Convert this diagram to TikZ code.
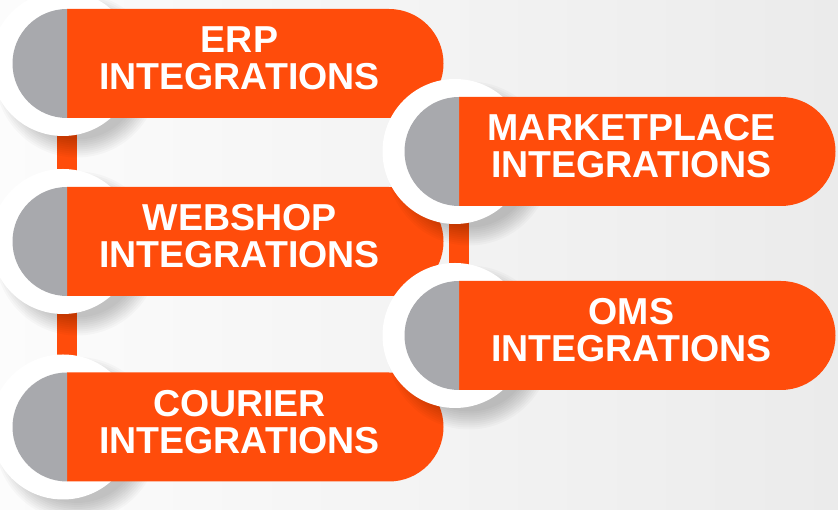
\documentclass[tikz,border=0pt]{standalone}
\usepackage{fontspec}
\setmainfont{Liberation Sans}
\usepackage{tikz}
\usetikzlibrary{calc}
\definecolor{pillorange}{HTML}{FF4C0B}
\definecolor{pillgray}{HTML}{A8A9AD}
\definecolor{bgleft}{HTML}{FCFCFC}
\definecolor{bgright}{HTML}{EBEBEB}
\tikzset{
    pilltext/.style={text=white, font=\fontsize{37.5}{37}\selectfont\bfseries, align=center},
    link/.style={line width=20pt, pillorange},
}

\begin{document}
\begin{tikzpicture}[x=1pt, y=1pt]
                \useasboundingbox (0, 0) rectangle (838, 510);
                \clip (0, 0) rectangle (838, 510);
                \shade[left color=bgleft, right color=bgright] (0, 0) rectangle (838, 510);
                \coordinate (erp-c) at (67, 446.5);
                \coordinate (web-c) at (67, 268.5);
                \coordinate (cou-c) at (67, 83);
                \coordinate (mkt-c) at (459, 358.5);
                \coordinate (oms-c) at (459, 174.5);
                \draw[link] (erp-c) -- (web-c);
                \draw[link] (web-c) -- (cou-c);
                \draw[link] (mkt-c) -- (oms-c);
                \foreach \nm/\txt in {erp/{ERP\\INTEGRATIONS}, web/{WEBSHOP\\INTEGRATIONS}, cou/{COURIER\\INTEGRATIONS}, mkt/{MARKETPLACE\\INTEGRATIONS}, oms/{OMS\\INTEGRATIONS}} {
                    \foreach \k in {0, ..., 9}
                        \fill[black, opacity=0.022] ($(\nm-c) + (10, -12)$) circle ({64 + 2*\k});
                    \fill[white] ($(\nm-c) + (-4, 0)$) circle (72.5);
                    \fill[pillorange] ($(\nm-c) + (0, 54.5)$) -- ++(322, 0) arc[start angle=90, end angle=-90, radius=54.5] -- ++(-322, 0) -- cycle;
                    \fill[pillgray] ($(\nm-c) + (0, 54.5)$) arc[start angle=90, end angle=270, radius=54.5] -- cycle;
                    \node[pilltext] (\nm) at ($(\nm-c) + (172.5, 5)$) {\txt};
                }
            \end{tikzpicture}
\end{document}
